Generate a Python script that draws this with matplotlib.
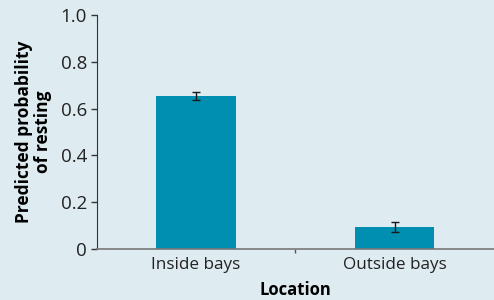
import matplotlib
matplotlib.use("Agg")
import matplotlib.pyplot as plt
import numpy as np

plt.rcParams["font.family"] = ["Open Sans", "DejaVu Sans"]

# data
locations = ["Inside bays", "Outside bays"]
probability = [0.655, 0.095]
error = [0.018, 0.022]

bg = "#deebf1"
bar_color = "#008fb0"

fig = plt.figure(figsize=(4.94, 3.0), dpi=100, facecolor=bg)
ax = fig.add_axes([0.196, 0.17, 0.804, 0.78], facecolor=bg)

x = np.arange(len(locations))
ax.bar(x, probability, width=0.4, color=bar_color, zorder=2)
ax.errorbar(x, probability, yerr=error, fmt="none", ecolor="#1a1a1a",
            elinewidth=1, capsize=3, capthick=1, zorder=3)

ax.set_xlim(-0.5, 1.5)
ax.set_ylim(0, 1.0)
ax.set_yticks([0, 0.2, 0.4, 0.6, 0.8, 1.0])
ax.set_yticklabels(["0", "0.2", "0.4", "0.6", "0.8", "1.0"])

# category labels without ticks, one separator tick in the middle
ax.set_xticks([0.5])
ax.set_xticklabels([""])
ax.tick_params(axis="x", length=3, width=1, color="#555555", direction="out")
for xi, lab in zip(x, locations):
    ax.text(xi, -0.035, lab, ha="center", va="top", fontsize=12.3,
            color="#222222", transform=ax.get_xaxis_transform())

ax.tick_params(axis="y", length=4, width=1, color="#333333",
               labelsize=13.5, labelcolor="#222222", pad=3)

for s in ["top", "right"]:
    ax.spines[s].set_visible(False)
ax.spines["left"].set_color("#333333")
ax.spines["bottom"].set_color("#777777")
ax.spines["bottom"].set_linewidth(1.2)

ax.set_ylabel("Predicted probability\nof resting", fontsize=12.5,
              fontweight="bold", linespacing=1.1, labelpad=6)
ax.text(0.5, -0.135, "Location", ha="center", va="top", fontsize=12,
        fontweight="bold", transform=ax.get_xaxis_transform())

fig.savefig("out.png", dpi=100, facecolor=bg)
